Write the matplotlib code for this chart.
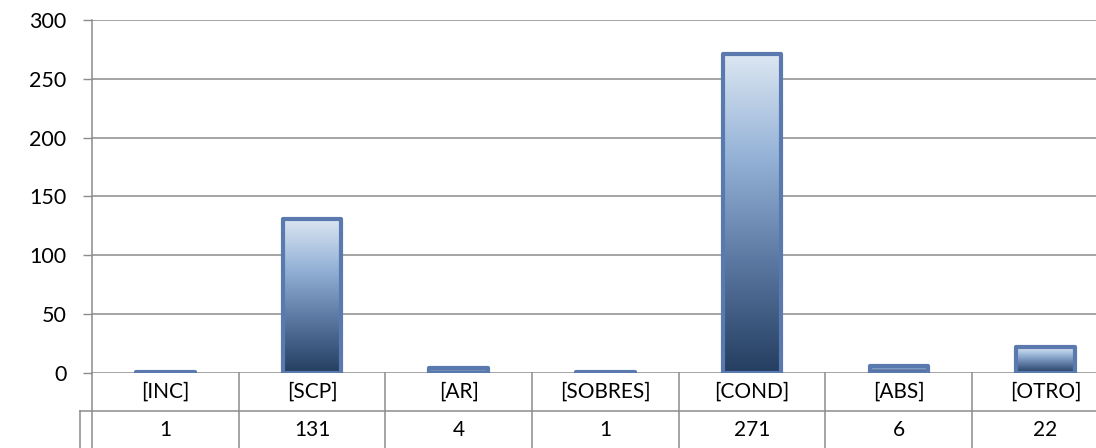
import numpy as np
import matplotlib.pyplot as plt
from matplotlib.colors import LinearSegmentedColormap
from matplotlib.transforms import blended_transform_factory

plt.rcParams['font.family'] = ['Lato', 'DejaVu Sans']

categorias = ["[INC]", "[SCP]", "[AR]", "[SOBRES]", "[COND]", "[ABS]", "[OTRO]"]
valores = [1, 131, 4, 1, 271, 6, 22]
y_ticks = [0, 50, 100, 150, 200, 250, 300]

GRID = "#8c8c8c"
BORDE = "#5a79ae"
degradado = LinearSegmentedColormap.from_list(
    "barra", [(0.0, "#243e60"), (0.35, "#5b78a2"), (0.68, "#95b3d7"), (1.0, "#dce6f2")])

W, H = 1096, 448
fig = plt.figure(figsize=(W / 100, H / 100), dpi=100)
# area de trazado: eje Y en x=92 px, 0 en y=373 px, 300 en y=20 px;
# cada categoria mide ~146.7 px, la ultima queda cortada por el borde
col_px = 146.7
ax = fig.add_axes([92 / W, (H - 373) / H, 7 * col_px / W, 353 / H])

x = np.arange(len(categorias))

ax.set_yticks(y_ticks)
ax.set_yticklabels([str(v) for v in y_ticks], fontsize=15.5)
ax.tick_params(axis="y", length=6.5, width=1.0, color=GRID, pad=12)
ax.set_xticks([])
ax.yaxis.grid(True, color=GRID, lw=1.1)
ax.set_axisbelow(True)
for s in ["top", "right", "bottom"]:
    ax.spines[s].set_visible(False)
ax.spines["left"].set_color(GRID)
ax.spines["left"].set_linewidth(1.1)

# barras con degradado vertical recortado a cada rectangulo
bars = ax.bar(x, valores, width=0.4, facecolor="none", edgecolor=BORDE,
              linewidth=3.0, joinstyle="round", zorder=3)
grad = np.linspace(0, 1, 256).reshape(-1, 1)
for b in bars:
    x0, w, h = b.get_x(), b.get_width(), b.get_height()
    im = ax.imshow(grad, cmap=degradado, origin="lower", aspect="auto",
                   extent=[x0, x0 + w, 0, h], zorder=2, interpolation="bilinear")
    im.set_clip_path(b)
ax.set_xlim(-0.5, len(categorias) - 0.5)
ax.set_ylim(0, 300)

# tabla de datos bajo el eje
tr = blended_transform_factory(ax.transData, ax.transAxes)
fila1 = -38 / 353
fila2 = -76 / 353
izq = -0.5 - 12 / col_px
kw = dict(color=GRID, lw=1.1, transform=tr, clip_on=False)
ax.plot([-0.5, -0.5], [0, fila2], **kw)
for b in np.arange(0.5, len(categorias) - 0.5):
    ax.plot([b, b], [0, fila2], **kw)
ax.plot([izq, len(categorias) - 0.5], [fila1, fila1], **kw)
ax.plot([izq, izq], [fila1, fila2], **kw)
for xi, cat, val in zip(x, categorias, valores):
    ax.text(xi, fila1 / 2, cat, transform=tr, ha="center", va="center", fontsize=15)
    ax.text(xi, (fila1 + fila2) / 2, str(val), transform=tr, ha="center",
            va="center", fontsize=15)

fig.savefig("out.png", dpi=100)
